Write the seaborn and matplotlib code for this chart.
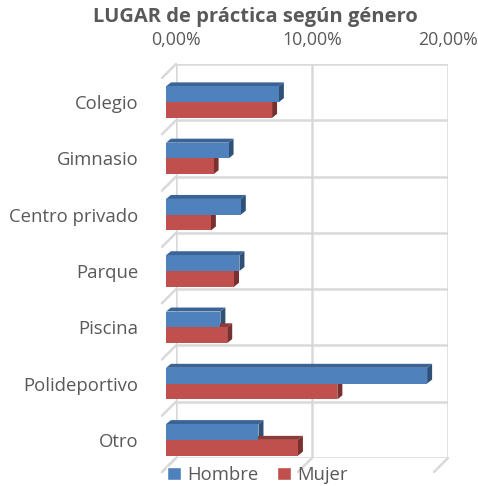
import matplotlib
matplotlib.use("Agg")
import matplotlib.pyplot as plt
from matplotlib.patches import Polygon, Patch
from matplotlib.lines import Line2D
from matplotlib.transforms import IdentityTransform
import seaborn as sns
import pandas as pd
import numpy as np

categories = ["Colegio", "Gimnasio", "Centro privado", "Parque", "Piscina", "Polideportivo", "Otro"]
hombre = [8.3, 4.6, 5.5, 5.4, 4.0, 19.2, 6.8]
mujer = [7.8, 3.5, 3.3, 5.0, 4.5, 12.6, 9.7]
series = ["Hombre", "Mujer"]
xticks = [0, 10, 20]
xticklabels = ["0,00%", "10,00%", "20,00%"]
title = "LUGAR de práctica según género"

sns.set_theme(style="white")
plt.rcParams['font.family'] = ['Open Sans', 'DejaVu Sans']
gray = "#595959"
colors = ["#4F81BD", "#C0504D"]
dark_top = ["#3B6496", "#8E3A38"]
dark_side = ["#2F5077", "#7A302E"]

df = pd.DataFrame({
    "Lugar": categories * 2,
    "Valor": hombre + mujer,
    "Genero": [series[0]] * len(categories) + [series[1]] * len(categories),
})

W, H = 478, 486
fig = plt.figure(figsize=(W / 100, H / 100), dpi=100)
fig.patch.set_facecolor("white")

# back wall axes (gridlines, top tick labels)
axb = fig.add_axes([176 / W, 1 - 458 / H, 272 / W, 394 / H])
axb.set_xlim(0, 20)
axb.set_ylim(len(categories) - 0.5, -0.5)
for s in axb.spines.values():
    s.set_visible(False)
gcol = "#D9D9D9"
for xv in xticks:
    axb.axvline(xv, color=gcol, lw=1.8, zorder=0)
for yv in np.arange(-0.5, len(categories), 1.0):
    axb.axhline(yv, color=gcol, lw=1.8, zorder=0)
axb.set_yticks([])
axb.xaxis.tick_top()
axb.set_xticks(xticks)
axb.set_xticklabels(xticklabels, color=gray, fontsize=12.8)
axb.tick_params(axis="x", length=0, pad=11)

# front axes with bars
axf = fig.add_axes([166 / W, 1 - 468 / H, 272 / W, 394 / H])
axf.patch.set_alpha(0)
sns.barplot(data=df, x="Valor", y="Lugar", hue="Genero", palette=colors,
            orient="h", width=0.56, ax=axf, legend=False, saturation=1,
            linewidth=0, zorder=2)
axf.set_xlim(0, 20)
axf.set_ylim(len(categories) - 0.5, -0.5)
for s in axf.spines.values():
    s.set_visible(False)
axf.set_xticks([])
axf.set_xlabel("")
axf.set_ylabel("")
axf.tick_params(axis="y", length=0, pad=20, labelsize=13.3, labelcolor=gray)

# floor / side slanted edges
fig.canvas.draw()
for yv in np.arange(-0.5, len(categories), 1.0):
    xb, yb = axb.transData.transform((0, yv))
    xf, yf = axf.transData.transform((0, yv))
    fig.add_artist(Line2D([xb, xf - 4], [yb, yf - 4], transform=IdentityTransform(),
                          color=gcol, lw=1.8, zorder=0))
for xv in xticks:
    xb, yb = axb.transData.transform((xv, len(categories) - 0.5))
    xf, yf = axf.transData.transform((xv, len(categories) - 0.5))
    fig.add_artist(Line2D([xb, xf - 4], [yb, yf - 4], transform=IdentityTransform(),
                          color=gcol, lw=1.8, zorder=0))

# 3D depth faces derived from drawn bars
dx, dy = 5, 4
n = len(categories)
bars = [p for p in axf.patches]
for i, p in enumerate(bars):
    si = i // n
    bb = p.get_window_extent()
    x0, x1, y0, y1 = bb.x0, bb.x1, bb.y0, bb.y1
    top = Polygon([(x0, y1), (x1, y1), (x1 + dx, y1 + dy), (x0 + dx, y1 + dy)],
                  closed=True, transform=IdentityTransform(), facecolor=dark_top[si],
                  edgecolor="none", zorder=1, clip_on=False)
    side = Polygon([(x1, y0), (x1 + dx, y0 + dy), (x1 + dx, y1 + dy), (x1, y1)],
                   closed=True, transform=IdentityTransform(), facecolor=dark_side[si],
                   edgecolor="none", zorder=1, clip_on=False)
    axf.add_artist(top)
    axf.add_artist(side)

fig.suptitle(title, x=0.535, y=0.986, fontsize=14.5, fontweight="bold", color=gray)

handles = [Patch(facecolor=colors[0], label=series[0]), Patch(facecolor=colors[1], label=series[1])]
fig.legend(handles=handles, loc="lower center", bbox_to_anchor=(0.538, -0.03), ncol=2,
           frameon=False, fontsize=13.3, labelcolor=gray, handlelength=0.75, handleheight=0.75,
           handletextpad=0.35, columnspacing=1.0)

fig.savefig("out.png", dpi=100, facecolor="white")
